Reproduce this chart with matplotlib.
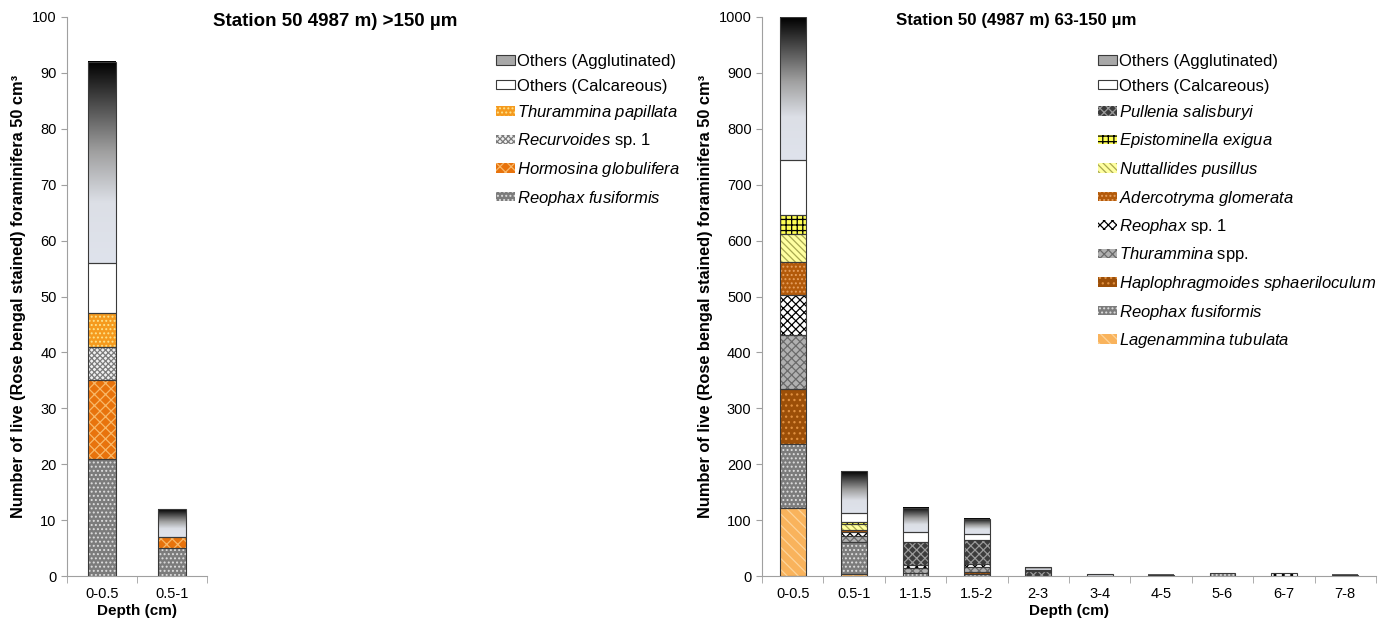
import numpy as np
import matplotlib
matplotlib.use('Agg')
import matplotlib.pyplot as plt
from matplotlib.patches import Patch
from matplotlib.colors import LinearSegmentedColormap

plt.rcParams['font.family'] = ['Liberation Sans', 'DejaVu Sans']
plt.rcParams['mathtext.fontset'] = 'custom'
plt.rcParams['mathtext.it'] = 'Liberation Sans:italic'
plt.rcParams['mathtext.rm'] = 'Liberation Sans'
plt.rcParams['hatch.linewidth'] = 0.9

# ---- data: >150 um fraction ----
depth_150 = ['0-0.5', '0.5-1']
reophax_fus_150 = [21, 5]
hormosina_150 = [14, 2]
recurvoides_150 = [6, 0]
thur_papillata_150 = [6, 0]
others_calc_150 = [9, 0]
others_aggl_150 = [36, 5]

# ---- data: 63-150 um fraction ----
depth_63 = ['0-0.5', '0.5-1', '1-1.5', '1.5-2', '2-3', '3-4', '4-5', '5-6', '6-7', '7-8']
lagenammina = [122, 3, 0, 0, 0, 0, 0, 0, 0, 0]
reophax_fus = [114, 58, 5, 3, 0, 0, 0, 6, 0, 0]
haplophragmoides = [99, 0, 0, 4, 0, 0, 0, 0, 0, 0]
thurammina_spp = [97, 11, 10, 9, 0, 0, 0, 0, 0, 0]
reophax_sp1 = [71, 7, 5, 5, 0, 0, 0, 0, 5, 0]
adercotryma = [59, 3, 0, 0, 0, 0, 0, 0, 0, 0]
nuttallides = [50, 11, 0, 0, 0, 0, 0, 0, 0, 0]
epistominella = [34, 4, 0, 0, 0, 0, 0, 0, 0, 0]
pullenia = [0, 0, 40, 43, 9, 0, 0, 0, 0, 0]
others_calc = [99, 16, 18, 11, 2, 0, 0, 0, 0, 0]
others_aggl = [255, 75, 43, 27, 5, 3, 2, 0, 0, 2]

# styles: (facecolor, hatchcolor, hatch) ; 'grad' = gradient fill
ST = {
    'aggl': ('grad', None, None),
    'calc': ('white', 'white', None),
    'thur_pap': ('#f59a1e', '#fde28c', '....'),
    'recurv': ('#f0f0f0', '#7a7a7a', 'xxxxxx'),
    'hormo': ('#e8730c', '#f8b868', 'xxx'),
    'reo_fus': ('#7c7c7c', '#dedede', '....'),
    'pullenia': ('#3c3c3c', '#9a9a9a', 'xxxx'),
    'episto': ('#ffff55', '#000000', '+++'),
    'nutta': ('#ffffa0', '#a8a850', '\\\\\\\\\\'),
    'ader': ('#b35a0a', '#e6a060', '....'),
    'reo_sp1': ('white', '#000000', 'xxxx'),
    'thur_spp': ('#b0b0b0', '#6a6a6a', 'xxxx'),
    'haplo': ('#9c4f08', '#e09040', '...'),
    'lagen': ('#f9b35c', '#fdd49a', '\\\\\\'),
}

grad_cmap = LinearSegmentedColormap.from_list(
    'aggl', [(0, '#dfe3ec'), (0.3, '#dcdfe6'), (0.55, '#a0a0a0'), (0.8, '#484848'), (1, '#000000')])
grad = np.linspace(0, 1, 256).reshape(-1, 1)
EDGE = '#3a3a3a'


def stack(ax, n, layers, width):
    x = np.arange(n)
    bottom = np.zeros(n)
    for vals, key in layers:
        vals = np.array(vals, float)
        fc, hc, h = ST[key]
        for i in range(n):
            v = vals[i]
            if v <= 0:
                continue
            if fc == 'grad':
                ax.imshow(grad, extent=[x[i] - width / 2, x[i] + width / 2, bottom[i], bottom[i] + v],
                          cmap=grad_cmap, origin='lower', aspect='auto', zorder=2)
            else:
                ax.bar(x[i], v, width, bottom=bottom[i], color=fc, edgecolor=hc, hatch=h,
                       linewidth=0, zorder=2)
            ax.bar(x[i], v, width, bottom=bottom[i], fill=False, edgecolor=EDGE, linewidth=0.8, zorder=3)
        bottom += vals


def style_axis(ax, labels, ymax, ystep):
    n = len(labels)
    ax.set_xlim(-0.5, n - 0.5)
    ax.set_ylim(0, ymax)
    ax.set_yticks(np.arange(0, ymax + 1, ystep))
    ax.set_xticks(np.arange(n))
    ax.set_xticklabels(labels)
    ax.set_xticks(np.arange(n + 1) - 0.5, minor=True)
    ax.tick_params(axis='x', which='major', length=0, labelsize=10.5, pad=8)
    ax.tick_params(axis='x', which='minor', length=5, color='#a0a0a0')
    ax.tick_params(axis='y', length=4, color='#a0a0a0', labelsize=10.5)
    for s in ['top', 'right']:
        ax.spines[s].set_visible(False)
    for s in ['left', 'bottom']:
        ax.spines[s].set_color('#a0a0a0')
    ax.set_xlabel('Depth (cm)', fontsize=11, fontweight='bold', labelpad=2)
    ax.set_ylabel('Number of live (Rose bengal stained) foraminifera 50 cm³',
                  fontsize=11.8, fontweight='bold', labelpad=4)


def handle(key):
    fc, hc, h = ST[key]
    if fc == 'grad':
        return Patch(facecolor='#a8a8a8', edgecolor=EDGE, linewidth=0.8)
    if key == 'calc':
        return Patch(facecolor='white', edgecolor=EDGE, linewidth=0.8)
    return Patch(facecolor=fc, edgecolor=hc, hatch=h, linewidth=0)


fig = plt.figure(figsize=(13.9, 6.25), dpi=100)
ax1 = fig.add_axes([0.0482, 0.0784, 0.1007, 0.8944])
ax2 = fig.add_axes([0.5482, 0.0784, 0.4417, 0.8944])

stack(ax1, 2, [(reophax_fus_150, 'reo_fus'), (hormosina_150, 'hormo'), (recurvoides_150, 'recurv'),
               (thur_papillata_150, 'thur_pap'), (others_calc_150, 'calc'), (others_aggl_150, 'aggl')], 0.4)
style_axis(ax1, depth_150, 100, 10)

stack(ax2, 10, [(lagenammina, 'lagen'), (reophax_fus, 'reo_fus'), (haplophragmoides, 'haplo'),
                (thurammina_spp, 'thur_spp'), (reophax_sp1, 'reo_sp1'), (adercotryma, 'ader'),
                (nuttallides, 'nutta'), (epistominella, 'episto'), (pullenia, 'pullenia'),
                (others_calc, 'calc'), (others_aggl, 'aggl')], 0.42)
style_axis(ax2, depth_63, 1000, 100)

leg_kw = dict(frameon=False, fontsize=12, labelspacing=0.57, handlelength=1.15, handleheight=0.5,
              handletextpad=0.1, borderaxespad=0, borderpad=0, loc='upper left',
              bbox_transform=fig.transFigure)

keys1 = ['aggl', 'calc', 'thur_pap', 'recurv', 'hormo', 'reo_fus']
labels1 = ['Others (Agglutinated)', 'Others (Calcareous)', r'$Thurammina\ papillata$',
           r'$Recurvoides$ sp. 1', r'$Hormosina\ globulifera$', r'$Reophax\ fusiformis$']
ax1.legend([handle(k) for k in keys1], labels1, bbox_to_anchor=(496 / 1390, 1 - 54 / 625), **leg_kw)

keys2 = ['aggl', 'calc', 'pullenia', 'episto', 'nutta', 'ader', 'reo_sp1', 'thur_spp', 'haplo',
         'reo_fus', 'lagen']
labels2 = ['Others (Agglutinated)', 'Others (Calcareous)', r'$Pullenia\ salisburyi$',
           r'$Epistominella\ exigua$', r'$Nuttallides\ pusillus$', r'$Adercotryma\ glomerata$',
           r'$Reophax$ sp. 1', r'$Thurammina$ spp.', r'$Haplophragmoides\ sphaeriloculum$',
           r'$Reophax\ fusiformis$', r'$Lagenammina\ tubulata$']
ax2.legend([handle(k) for k in keys2], labels2, bbox_to_anchor=(1098 / 1390, 1 - 54 / 625), **leg_kw)

fig.text(335 / 1390, 1 - 21 / 625, 'Station 50 4987 m) >150 µm', ha='center', va='center',
         fontsize=13.5, fontweight='bold')
fig.text(1016 / 1390, 1 - 21 / 625, 'Station 50 (4987 m) 63-150 µm', ha='center', va='center',
         fontsize=12.2, fontweight='bold')

fig.savefig('out.png', dpi=100)
